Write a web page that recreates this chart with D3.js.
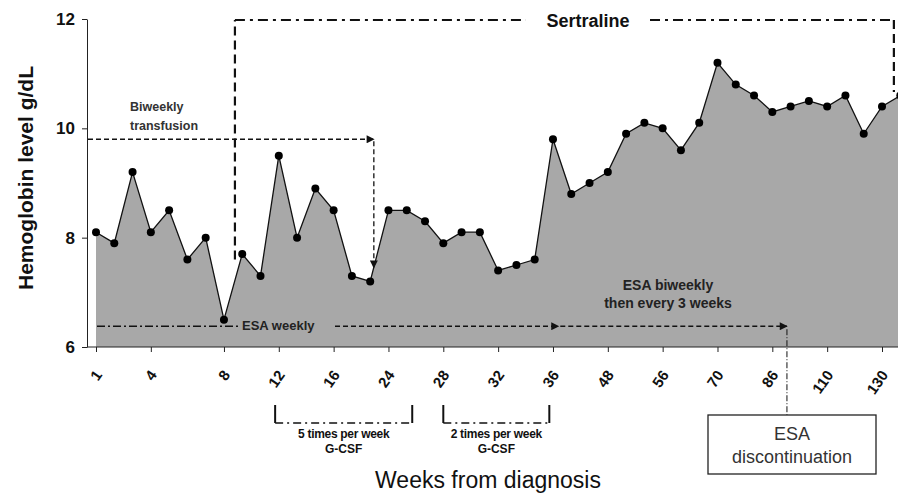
<!DOCTYPE html>
<meta charset="utf-8">
<script src="https://cdn.jsdelivr.net/npm/d3@7"></script>
<style>
  body { margin: 0; background: #fff; }
  text { font-family: Arial, "Liberation Sans", sans-serif; }
</style>
<div id="chart"></div>
<script>

// hemoglobin readings, one per visit (equally spaced on the chart)
var hb = [8.1, 7.9, 9.2, 8.1, 8.5, 7.6, 8.0, 6.5, 7.7, 7.3, 9.5, 8.0,
          8.9, 8.5, 7.3, 7.2, 8.5, 8.5, 8.3, 7.9, 8.1, 8.1, 7.4, 7.5,
          7.6, 9.8, 8.8, 9.0, 9.2, 9.9, 10.1, 10.0, 9.6, 10.1, 11.2, 10.8,
          10.6, 10.3, 10.4, 10.5, 10.4, 10.6, 9.9, 10.4, 10.6];

// which visits carry a week label
var tickVisit = [0, 3, 7, 10, 13, 16, 19, 22, 25, 28, 31, 34, 37, 40, 43];
var tickWeeks = ["1", "4", "8", "12", "16", "24", "28", "32", "36", "48", "56", "70", "86", "110", "130"];
var yTicks = [6, 8, 10, 12];

var width = 898, height = 497;

var svg = d3.select("#chart").append("svg")
  .attr("width", width)
  .attr("height", height);

var x = d3.scaleLinear().domain([0, 43]).range([96, 882]);
var y = d3.scaleLinear().domain([6, 12]).range([347, 19]);

// arrow head
svg.append("defs").append("marker")
  .attr("id", "arr")
  .attr("viewBox", "0 0 10 10")
  .attr("refX", 9).attr("refY", 5)
  .attr("markerWidth", 9).attr("markerHeight", 8)
  .attr("markerUnits", "userSpaceOnUse")
  .attr("orient", "auto")
  .append("path")
  .attr("d", "M0,0 L10,5 L0,10 z")
  .attr("fill", "#111");

// area + line
var area = d3.area()
  .x(function(d, i) { return x(i); })
  .y0(y(6))
  .y1(function(d) { return y(d); });

var line = d3.line()
  .x(function(d, i) { return x(i); })
  .y(function(d) { return y(d); });

svg.append("path").datum(hb)
  .attr("d", area)
  .attr("fill", "#a8a8a8");

// axes
var yAxis = svg.append("g")
  .attr("transform", "translate(87,0)")
  .call(d3.axisLeft(y).tickValues(yTicks).tickFormat(d3.format("d"))
    .tickSize(5).tickSizeOuter(0).tickPadding(7));
yAxis.select(".domain").attr("stroke", "#222");
yAxis.selectAll(".tick line").attr("stroke", "#222");
yAxis.selectAll("text")
  .attr("font-size", 17).attr("font-weight", "bold").attr("fill", "#111");

var xAxis = svg.append("g")
  .attr("transform", "translate(0,347)")
  .call(d3.axisBottom(x).tickValues(tickVisit).tickSize(5)
    .tickFormat(function(d, i) { return tickWeeks[i]; }));
xAxis.select(".domain").remove();
xAxis.selectAll(".tick line").attr("stroke", "#222");
xAxis.selectAll("text")
  .attr("font-size", 15).attr("font-weight", "bold").attr("fill", "#111")
  .attr("text-anchor", "end")
  .attr("x", 0).attr("y", 0).attr("dy", "0.35em")
  .attr("transform", "translate(2,25) rotate(-55)");
svg.append("line")
  .attr("x1", 87).attr("x2", width)
  .attr("y1", 347).attr("y2", 347)
  .attr("stroke", "#222");

// data line and markers
svg.append("path").datum(hb)
  .attr("d", line)
  .attr("fill", "none")
  .attr("stroke", "#111")
  .attr("stroke-width", 1.3);

svg.selectAll("circle.pt")
  .data(hb)
  .enter().append("circle")
  .attr("class", "pt")
  .attr("cx", function(d, i) { return x(i); })
  .attr("cy", function(d) { return y(d); })
  .attr("r", 4)
  .attr("fill", "#000");

// axis titles
svg.append("text")
  .attr("transform", "translate(33,178) rotate(-90)")
  .attr("text-anchor", "middle")
  .attr("font-size", 21).attr("font-weight", "bold").attr("fill", "#111")
  .text("Hemoglobin level g/dL");

svg.append("text")
  .attr("x", 488).attr("y", 488)
  .attr("text-anchor", "middle")
  .attr("font-size", 23).attr("fill", "#111")
  .text("Weeks from diagnosis");

// ---- annotations ----
function seg(x1, y1, x2, y2, w, dash, arrow) {
  var l = svg.append("line")
    .attr("x1", x1).attr("y1", y1).attr("x2", x2).attr("y2", y2)
    .attr("stroke", "#111").attr("stroke-width", w)
    .attr("stroke-dasharray", dash);
  if (arrow) l.attr("marker-end", "url(#arr)");
  return l;
}

// Sertraline
var sTop = 20;
seg(x(7.6), y(7.6), x(7.6), sTop, 2.2, "9,5");
seg(x(7.6), sTop, 526, sTop, 2, "10,5,3,5");
seg(650, sTop, x(43.65), sTop, 2, "10,5,3,5");
seg(x(43.65), sTop, x(43.65), 92, 2.2, "9,5");
svg.append("text")
  .attr("x", 588).attr("y", 27)
  .attr("text-anchor", "middle")
  .attr("font-size", 18).attr("font-weight", "bold").attr("fill", "#111")
  .text("Sertraline");

// Biweekly transfusion
seg(88, y(9.8), x(15.2), y(9.8), 1.3, "5,3", true);
seg(x(15.2), y(9.8) + 2, x(15.2), y(7.45), 1.3, "5,3", true);
svg.append("text")
  .attr("x", 130).attr("y", 111)
  .attr("font-family", "'Open Sans', sans-serif")
  .attr("font-size", 12.5).attr("font-weight", 600).attr("fill", "#333")
  .text("Biweekly");
svg.append("text")
  .attr("x", 130).attr("y", 130)
  .attr("font-family", "'Open Sans', sans-serif")
  .attr("font-size", 12.5).attr("font-weight", 600).attr("fill", "#333")
  .text("transfusion");

// ESA weekly
var esaY = y(6.38);
seg(97, esaY, 238, esaY, 1.3, "8,3,2,3");
svg.append("text")
  .attr("x", 242).attr("y", esaY + 4)
  .attr("font-family", "'Open Sans', sans-serif")
  .attr("font-size", 13).attr("font-weight", 700).attr("fill", "#222")
  .text("ESA weekly");
seg(335, esaY, x(25.3), esaY, 1.3, "5,3", true);
seg(x(25.4), esaY, x(37.8), esaY, 1.3, "5,3", true);
seg(x(37.8), esaY + 3, x(37.8), 415, 1, "6,2,1,2");

svg.append("text")
  .attr("x", 668).attr("y", 290)
  .attr("text-anchor", "middle")
  .attr("font-size", 14).attr("font-weight", "bold").attr("fill", "#222")
  .text("ESA biweekly");
svg.append("text")
  .attr("x", 668).attr("y", 308)
  .attr("text-anchor", "middle")
  .attr("font-size", 14).attr("font-weight", "bold").attr("fill", "#222")
  .text("then every 3 weeks");

// ESA discontinuation box
svg.append("rect")
  .attr("x", 708).attr("y", 415)
  .attr("width", 168).attr("height", 59)
  .attr("fill", "#fff").attr("stroke", "#222").attr("stroke-width", 1.3);
svg.append("text")
  .attr("x", 792).attr("y", 440)
  .attr("text-anchor", "middle")
  .attr("font-size", 18).attr("fill", "#333")
  .text("ESA");
svg.append("text")
  .attr("x", 792).attr("y", 463)
  .attr("text-anchor", "middle")
  .attr("font-size", 18).attr("fill", "#333")
  .text("discontinuation");

// G-CSF brackets
function bracket(i0, i1, label) {
  var x0 = x(i0), x1 = x(i1);
  seg(x0, 405, x0, 423, 2, null);
  seg(x0, 423, x1, 423, 1.6, "8,4,2,4");
  seg(x1, 405, x1, 423, 2, null);
  var cx = (x0 + x1) / 2;
  svg.append("text")
    .attr("x", cx).attr("y", 438)
    .attr("text-anchor", "middle")
    .attr("font-size", 12).attr("font-weight", "bold").attr("fill", "#111")
    .attr("letter-spacing", "-0.3")
    .text(label);
  svg.append("text")
    .attr("x", cx).attr("y", 453)
    .attr("text-anchor", "middle")
    .attr("font-size", 12).attr("font-weight", "bold").attr("fill", "#111")
    .text("G-CSF");
}
bracket(9.8, 17.3, "5 times per week");
bracket(19.0, 24.8, "2 times per week");

</script>
